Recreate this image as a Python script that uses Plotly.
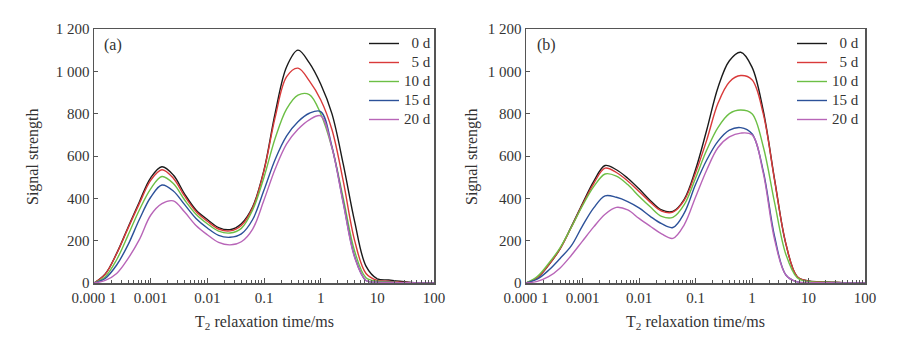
import plotly.graph_objects as go

# T2 relaxation time (ms), common sampling grid
t2_ms = [0.0001, 0.000158, 0.000251, 0.000398, 0.000631, 0.001, 0.00158, 0.00251,
         0.00398, 0.00631, 0.01, 0.0158, 0.0251, 0.0398, 0.0631, 0.1, 0.158, 0.251,
         0.398, 0.631, 1, 1.58, 2.51, 3.98, 6.31, 10, 15.8, 25.1, 39.8, 63.1, 100]

series_names = ["\u20070 d", "\u20075 d", "10 d", "15 d", "20 d"]
series_colors = ["#1a1a1a", "#d93a3a", "#6cbf45", "#2c5199", "#b865b8"]

# Panel (a)
a_0d = [0, 43, 140, 262, 383, 497, 549, 510, 420, 345, 300, 262, 252, 280, 360, 534,
        805, 1022, 1100, 1040, 940, 800, 560, 290, 80, 20, 14, 8, 3, 0, 0]
a_5d = [0, 42, 138, 258, 375, 485, 535, 495, 410, 338, 292, 255, 246, 272, 355, 530,
        785, 975, 1015, 955, 866, 725, 480, 200, 45, 12, 8, 4, 2, 0, 0]
a_10d = [0, 30, 110, 225, 345, 445, 503, 470, 392, 325, 280, 245, 236, 258, 345, 500,
         685, 823, 888, 890, 800, 640, 400, 150, 25, 8, 5, 2, 1, 0, 0]
a_15d = [0, 22, 85, 180, 300, 405, 463, 435, 370, 305, 260, 225, 216, 232, 300, 439,
         585, 695, 762, 802, 810, 645, 380, 125, 12, 4, 3, 1, 1, 0, 0]
a_20d = [0, 12, 45, 115, 205, 320, 375, 388, 335, 272, 228, 192, 180, 195, 255, 392,
         540, 657, 726, 771, 790, 640, 375, 120, 12, 4, 3, 1, 1, 0, 0]

# Panel (b)
b_0d = [0, 25, 85, 160, 265, 375, 480, 555, 535, 495, 445, 390, 345, 338, 395, 535,
        723, 925, 1050, 1090, 1020, 815, 490, 185, 30, 10, 6, 4, 2, 1, 0]
b_5d = [0, 25, 85, 160, 262, 370, 470, 543, 522, 482, 432, 382, 340, 335, 390, 520,
        675, 850, 950, 980, 960, 800, 485, 185, 30, 9, 5, 3, 2, 1, 0]
b_10d = [0, 30, 92, 165, 262, 365, 455, 515, 505, 465, 410, 360, 315, 310, 370, 495,
         628, 735, 800, 817, 800, 645, 380, 135, 25, 7, 4, 3, 2, 1, 0]
b_15d = [0, 18, 60, 115, 175, 270, 355, 412, 405, 385, 355, 315, 280, 262, 330, 465,
         581, 670, 722, 734, 705, 530, 220, 38, 5, 2, 1, 1, 0, 0, 0]
b_20d = [0, 8, 30, 70, 130, 198, 265, 325, 357, 345, 305, 268, 232, 211, 275, 405,
         534, 640, 690, 708, 700, 520, 205, 38, 5, 2, 1, 1, 0, 0, 0]

x_tickvals = [0.0001, 0.001, 0.01, 0.1, 1, 10, 100]
x_ticktext = ["0.000 1", "0.001", "0.01", "0.1", "1", "10", "100"]
y_tickvals = [0, 200, 400, 600, 800, 1000, 1200]
y_ticktext = ["0", "200", "400", "600", "800", "1 000", "1 200"]

W, H = 900, 357
FONT = "Liberation Serif, Times New Roman, serif"
AX = "#555555"

fig = go.Figure()
panels = [
    ([a_0d, a_5d, a_10d, a_15d, a_20d], "x", "y", "legend"),
    ([b_0d, b_5d, b_10d, b_15d, b_20d], "x2", "y2", "legend2"),
]
for data, xa, ya, lg in panels:
    for name, col, vals in zip(series_names, series_colors, data):
        fig.add_trace(go.Scatter(
            x=t2_ms, y=vals, mode="lines", xaxis=xa, yaxis=ya, legend=lg,
            name="<span style='font-size:15px'>" + name + "</span>",
            line=dict(color=col, width=1.4, shape="spline", smoothing=1.0),
        ))

minor_vals = [m * 10 ** e for e in range(-4, 2) for m in range(2, 10)]

def xaxis(dom, anchor):
    return dict(domain=dom, anchor=anchor, type="log", range=[-4, 2],
                tickvals=x_tickvals, automargin=False,
                ticktext=x_ticktext, ticks="inside", ticklen=5, tickcolor=AX,
                tickwidth=1, showline=True, linecolor=AX, linewidth=1.5, mirror=True,
                showgrid=False, zeroline=False,
                minor=dict(tickvals=minor_vals, ticks="inside", ticklen=3,
                           tickcolor=AX, showgrid=False),
                tickfont=dict(family=FONT, size=15, color="#333"))

def yaxis(dom, anchor):
    return dict(domain=dom, anchor=anchor, range=[0, 1200], tickvals=y_tickvals,
                ticktext=y_ticktext, ticks="inside", ticklen=4, tickcolor=AX,
                automargin=False,
                showline=True, linecolor=AX, linewidth=1.5, mirror=True,
                showgrid=False, zeroline=False,
                tickfont=dict(family=FONT, size=15, color="#333"))

ydom = [1 - 283 / H, 1 - 29 / H]
leg_common = dict(xanchor="left", yanchor="top", bgcolor="rgba(0,0,0,0)",
                  font=dict(family=FONT, size=11, color="#333"))
fig.update_layout(
    template="none",
    width=W, height=H, margin=dict(l=0, r=0, t=0, b=0, autoexpand=False),
    paper_bgcolor="white", plot_bgcolor="white", showlegend=True,
    hovermode=False,
    xaxis=xaxis([94 / W, 434 / W], "y"),
    yaxis=yaxis(ydom, "x"),
    xaxis2=xaxis([526 / W, 865 / W], "y2"),
    yaxis2=yaxis(ydom, "x2"),
    legend=dict(x=364 / W, y=1 - 29 / H, **leg_common),
    legend2=dict(x=792 / W, y=1 - 29 / H, **leg_common),
)

ann_font = dict(family=FONT, size=16, color="#333")
for cx in [264, 695.5]:
    fig.add_annotation(x=cx / W, y=1 - 322 / H, xref="paper", yref="paper",
                       text="T<sub>2</sub> relaxation time/ms", showarrow=False,
                       font=ann_font, xanchor="center", yanchor="middle")
for cx in [33, 472]:
    fig.add_annotation(x=cx / W, y=1 - 157 / H, xref="paper", yref="paper",
                       text="Signal strength", textangle=-90, showarrow=False,
                       font=ann_font, xanchor="center", yanchor="middle")
for px, lab in [(102, "(a)"), (535, "(b)")]:
    fig.add_annotation(x=px / W, y=1 - 45 / H, xref="paper", yref="paper",
                       text=lab, showarrow=False, font=ann_font,
                       xanchor="left", yanchor="middle")

fig.write_html("out.html", config={"displayModeBar": False, "staticPlot": True},
               post_script="document.body.style.margin='0px';document.body.style.overflow='hidden';")
